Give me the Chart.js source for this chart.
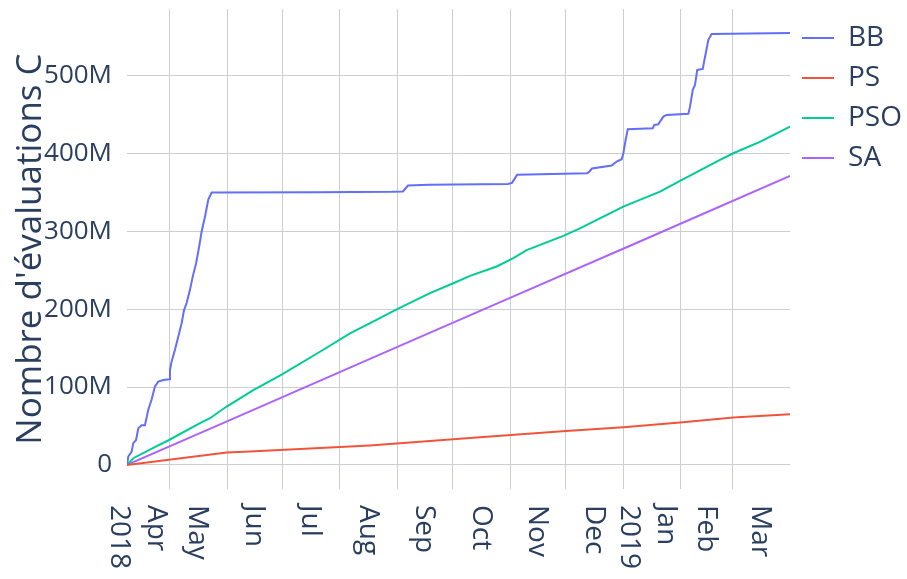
<!DOCTYPE html>
<html>
<head>
<meta charset="utf-8">
<script src="https://cdn.jsdelivr.net/npm/chart.js@4.4.0/dist/chart.umd.min.js"></script>
<style>
  html, body { margin: 0; padding: 0; background: #fff; }
  canvas { display: block; }
</style>
</head>
<body>
<canvas id="evalChart" width="907" height="579"></canvas>
<script>
// x: days counted from 1 Jan 2018, y: evaluations in millions

const bbDays = [97, 97.7, 99.5, 100.4, 101.9, 103.1, 104.9, 106.7, 108.5, 110.3,
  112.1, 113.9, 116.6, 119.8, 120.2, 121.1, 122.9, 124.7, 126.5, 127.8,
  129.2, 131, 132.5, 134.3, 136, 137.3, 139.1, 140.9, 142.7, 200,
  240, 246, 248.7, 260, 302.7, 304.9, 307.6, 345.4, 346.5, 348.1,
  358.7, 361.4, 364.1, 365, 366.4, 367.4, 380.9, 381.7, 383.9, 384.8,
  386.6, 388.4, 400.1, 401, 402.5, 403.7, 404.9, 407.9, 408.6, 409.5,
  410.9, 412.7, 455];
const bbValues = [0, 10.7, 17, 28, 32, 47, 51, 51, 71, 84,
  101, 107, 109, 110, 122, 133, 148, 165, 182, 199,
  208, 225, 242, 259, 281, 300, 319, 341, 350, 350.5,
  351, 351.5, 359, 360, 361.2, 362.5, 372.8, 375, 376.5, 381,
  384.7, 389.9, 392.9, 400.6, 419.9, 431.5, 432.8, 437, 437.9, 441.3,
  447.7, 449.9, 451.2, 460.5, 482, 488.4, 507.7, 509, 518.4, 529.2,
  546.3, 554, 555];

const psDays = [97, 150.8, 163.4, 217.4, 228, 287.6, 334, 365, 395.6, 424.4, 455];
const psValues = [0, 15.8, 17.1, 23.5, 25, 35.6, 43.7, 48.5, 54.4, 60.8, 65.2];

const psoDays = [97, 100.4, 111.2, 119.7, 136.4, 141.8, 150.8, 165.2, 180.5, 203,
  217.4, 230.9, 242.6, 260.6, 273.2, 282.2, 296.6, 305.6, 312.8, 332.6,
  341.6, 351.5, 365, 384.8, 395.6, 417.2, 424.4, 439, 455];
const psoValues = [0, 8.6, 22, 32, 53.6, 60, 75, 96, 116, 148,
  169, 185.5, 200, 220.7, 233.5, 243, 255, 265.7, 276, 294.3,
  304, 316, 332, 351.3, 365, 392, 400.6, 415.6, 434.8];

const saDays = [97, 151, 239, 310, 368, 455];
const saValues = [0, 56, 147.5, 221, 281, 371.5];

// first day of each month, Apr 2018 .. Apr 2019
const monthStarts = [90, 120, 151, 181, 212, 243, 273, 304, 334, 365, 396, 424, 455];
const monthLabels = [['Apr', '2018'], 'May', 'Jun', 'Jul', 'Aug', 'Sep', 'Oct',
  'Nov', 'Dec', ['Jan', '2019'], 'Feb', 'Mar'];

const yTicks = [0, 100, 200, 300, 400, 500];

const TEXT = '#2a3f5f';
const GRID = '#cbced4';
const FONT = "'Open Sans', sans-serif";

function toPoints(days, values) {
    return days.map((d, i) => ({ x: d, y: values[i] }));
}

function series(label, days, values, color) {
    return {
        label: label,
        data: toPoints(days, values),
        borderColor: color,
        backgroundColor: color,
        borderWidth: 2,
        pointRadius: 0,
        tension: 0,
        fill: false
    };
}

// month names sit in the middle of each month, rotated to read downwards
const monthLabelsPlugin = {
    id: 'monthLabels',
    afterDraw(chart) {
        const ctx = chart.ctx;
        const xs = chart.scales.x;
        ctx.save();
        ctx.font = `28px ${FONT}`;
        ctx.fillStyle = TEXT;
        ctx.textBaseline = 'middle';
        ctx.textAlign = 'left';
        monthLabels.forEach((label, i) => {
            const mid = (monthStarts[i] + monthStarts[i + 1]) / 2;
            const px = xs.getPixelForValue(mid);
            const lines = Array.isArray(label) ? label : [label];
            const shift = lines.length > 1 ? 14 : -1;
            ctx.save();
            ctx.translate(px + shift, xs.top + 16);
            ctx.rotate(Math.PI / 2);
            lines.forEach((t, j) => ctx.fillText(t, 0, j * 37));
            ctx.restore();
        });
        ctx.restore();
    }
};

new Chart(document.getElementById('evalChart'), {
    type: 'line',
    data: {
        datasets: [
            series('BB', bbDays, bbValues, '#636efa'),
            series('PS', psDays, psValues, '#ef553b'),
            series('PSO', psoDays, psoValues, '#00cc96'),
            series('SA', saDays, saValues, '#ab63fa')
        ]
    },
    options: {
        responsive: false,
        animation: false,
        devicePixelRatio: 1,
        layout: { autoPadding: false, padding: { top: 9, right: -5, left: 0, bottom: 0 } },
        plugins: {
            tooltip: { enabled: false },
            legend: {
                position: 'right',
                align: 'start',
                // empty title only pushes the entries down a little
                title: { display: true, text: '', font: { size: 3, lineHeight: 1 }, padding: 0 },
                labels: {
                    usePointStyle: true,
                    pointStyle: 'line',
                    pointStyleWidth: 32,
                    padding: 12,
                    color: TEXT,
                    font: { family: FONT, size: 28 }
                }
            }
        },
        scales: {
            x: {
                type: 'linear',
                min: bbDays[0],
                max: bbDays[bbDays.length - 1],
                afterBuildTicks: s => {
                    s.ticks = monthStarts.filter(d => d > s.min && d < s.max).map(v => ({ value: v }));
                },
                ticks: { display: false },
                grid: { color: GRID, drawTicks: false },
                border: { display: false },
                afterFit: s => {
                    s.height = 90;
                    s.paddingLeft = 0;
                    s.paddingRight = 0;
                }
            },
            y: {
                min: -31,
                max: 586,
                afterBuildTicks: s => { s.ticks = yTicks.map(v => ({ value: v })); },
                ticks: {
                    callback: v => v === 0 ? '0' : v + 'M',
                    color: TEXT,
                    font: { family: FONT, size: 26 },
                    padding: 15
                },
                grid: { color: GRID, drawTicks: false },
                border: { display: false },
                title: {
                    display: true,
                    text: "Nombre d'évaluations C",
                    color: TEXT,
                    font: { family: FONT, size: 35 },
                    padding: { top: 10, bottom: 0 }
                },
                afterFit: s => {
                    s.width = 127;
                    s.paddingTop = 0;
                    s.paddingBottom = 0;
                }
            }
        }
    },
    plugins: [monthLabelsPlugin]
});
</script>
</body>
</html>
